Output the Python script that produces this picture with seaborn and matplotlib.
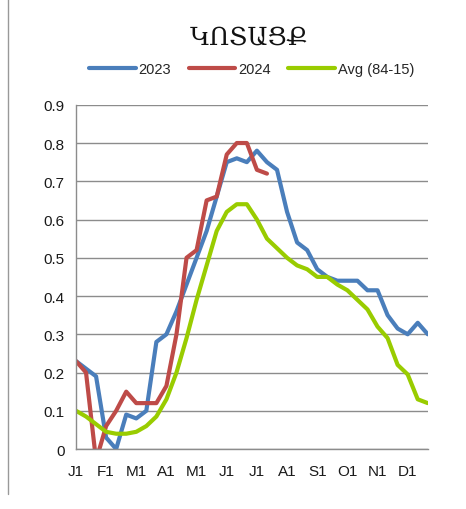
import matplotlib
matplotlib.use("Agg")
import matplotlib.pyplot as plt
from matplotlib.lines import Line2D
import seaborn as sns
import pandas as pd
import numpy as np

# dekads of the year (36 points), label every 3rd
month_labels = ['J1', 'F1', 'M1', 'A1', 'M1', 'J1', 'J1', 'A1', 'S1', 'O1', 'N1', 'D1']

y2023 = [0.23, 0.21, 0.19, 0.03, 0.0, 0.09, 0.08, 0.10, 0.28, 0.30, 0.36, 0.43,
         0.50, 0.57, 0.66, 0.75, 0.76, 0.75, 0.78, 0.75, 0.73, 0.62, 0.54, 0.52,
         0.47, 0.45, 0.44, 0.44, 0.44, 0.415, 0.415, 0.35, 0.315, 0.30, 0.33, 0.30]
y2024 = [0.23, 0.20, -0.03, 0.06, 0.10, 0.15, 0.12, 0.12, 0.12, 0.165, 0.30, 0.50,
         0.52, 0.65, 0.66, 0.77, 0.80, 0.80, 0.73, 0.72]
y_avg = [0.10, 0.085, 0.065, 0.045, 0.04, 0.04, 0.045, 0.06, 0.085, 0.13, 0.20, 0.29,
         0.39, 0.48, 0.57, 0.62, 0.64, 0.64, 0.60, 0.55, 0.525, 0.50, 0.48, 0.47,
         0.45, 0.45, 0.43, 0.415, 0.39, 0.365, 0.32, 0.29, 0.22, 0.195, 0.13, 0.12]

n = len(y2023)
df = pd.DataFrame({
    'dekad': np.arange(n),
    '2023': y2023,
    '2024': y2024 + [np.nan] * (n - len(y2024)),
    'Avg (84-15)': y_avg,
})

sns.set_style("white")
plt.rcParams['font.family'] = ['Liberation Sans', 'DejaVu Sans']

fig = plt.figure(figsize=(4.66, 5.10), dpi=100)
ax = fig.add_axes([0.163, 0.1176, 0.755, 0.675])

colors = {'2023': '#4a7ebb', '2024': '#be4b48', 'Avg (84-15)': '#99cc00'}
for col in ['2023', '2024', 'Avg (84-15)']:
    sns.lineplot(data=df, x='dekad', y=col, ax=ax, color=colors[col],
                 linewidth=3, label=col, legend=False)

ax.set_xlim(0, n - 1)
ax.set_ylim(0, 0.9)
ax.set_yticks(np.arange(0, 0.91, 0.1))
ax.set_yticklabels(['0'] + ['%.1f' % v for v in np.arange(0.1, 0.91, 0.1)])
ax.set_xticks(np.arange(0, n, 3))
ax.set_xticklabels(month_labels)
ax.set_xticks(np.arange(0, n), minor=True)
ax.grid(axis='y', color='#8c8c8c', linewidth=1)
ax.set_axisbelow(True)
for s in ['top', 'right']:
    ax.spines[s].set_visible(False)
for s in ['left', 'bottom']:
    ax.spines[s].set_color('#8c8c8c')
    ax.spines[s].set_linewidth(1)
ax.tick_params(axis='both', which='both', direction='out', color='#8c8c8c',
               length=5, width=1, labelsize=11, labelcolor='#1a1a1a', pad=3)
ax.tick_params(axis='x', which='major', pad=6)
ax.set_xlabel('')
ax.set_ylabel('')

handles = [Line2D([], [], color=colors[c], linewidth=3) for c in colors]
fig.legend(handles, list(colors.keys()), loc='center', bbox_to_anchor=(0.54, 0.863),
           ncol=3, frameon=False, fontsize=10.5, handlelength=3.2,
           handletextpad=0.2, columnspacing=1.2)

fig.text(0.535, 0.925, 'ԿՈՏԱՑՔ', ha='center', va='center', fontsize=18,
         family=['DejaVu Serif', 'DejaVu Sans'], color='#111111')

# left frame line of the original screenshot
fig.add_artist(Line2D([0.017, 0.017], [0.03, 1.0], color='#999999', linewidth=1,
                      transform=fig.transFigure))

fig.savefig('out.png', dpi=100, facecolor='white')
